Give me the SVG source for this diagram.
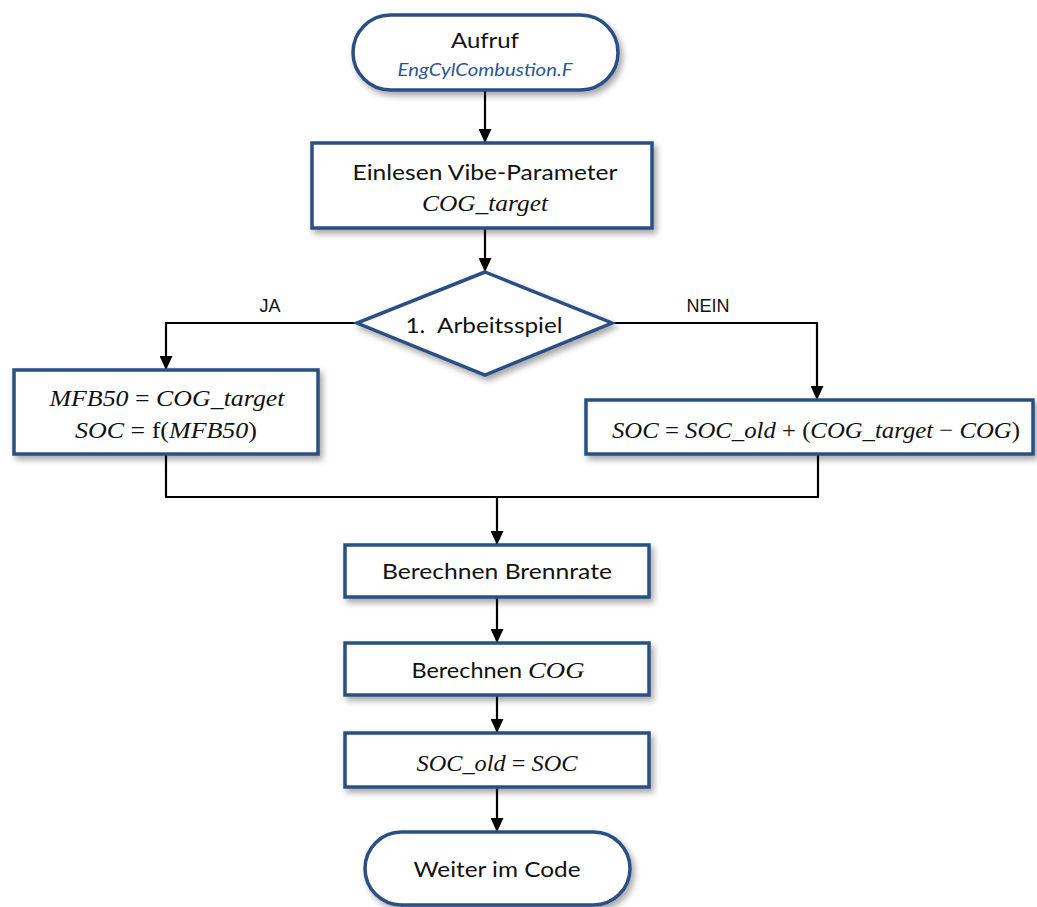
<svg xmlns="http://www.w3.org/2000/svg" width="1037" height="907" viewBox="0 0 1037 907">
  <style>
    .shape { fill: #ffffff; stroke: #2a4f82; stroke-width: 3.5; filter: url(#shadow); }
    .lbl { font-family: Lato, "Open Sans", sans-serif; font-size: 21px; fill: #111; text-anchor: middle; }
    .sub { font-family: Lato, "Open Sans", sans-serif; font-size: 17px; font-style: italic; fill: #2e5597; text-anchor: middle; }
    .math { font-family: "Liberation Serif", "DejaVu Serif", serif; font-size: 24px; fill: #111; text-anchor: middle; }
    .v { font-style: italic; }
    .yn { font-family: "Liberation Sans", Arial, sans-serif; font-size: 18px; fill: #111; text-anchor: middle; }
    .wire { fill: none; stroke: #000; stroke-width: 2.2; }
  </style>
  <defs>
    <filter id="shadow" x="-10%" y="-20%" width="125%" height="150%">
      <feDropShadow dx="3" dy="4" stdDeviation="3" flood-color="#000" flood-opacity="0.35"/>
    </filter>
    <marker id="arrow" viewBox="0 0 14 13" refX="14" refY="6.5" markerWidth="14" markerHeight="13" markerUnits="userSpaceOnUse" orient="auto">
      <path d="M0,0 L14,6.5 L0,13 Z" fill="#000"/>
    </marker>
  </defs>

  <rect width="1037" height="907" fill="#ffffff"/>

  <!-- connectors -->
  <g id="connectors">
    <path class="wire" d="M485,90 V143" marker-end="url(#arrow)"/>
    <path class="wire" d="M485,228 V272" marker-end="url(#arrow)"/>
    <path class="wire" d="M357,323 H166 V370" marker-end="url(#arrow)"/>
    <path class="wire" d="M612,323 H817 V400" marker-end="url(#arrow)"/>
    <path class="wire" d="M166,454 V497 H818 V454"/>
    <path class="wire" d="M497,497 V545" marker-end="url(#arrow)"/>
    <path class="wire" d="M497,597 V643" marker-end="url(#arrow)"/>
    <path class="wire" d="M497,695 V733" marker-end="url(#arrow)"/>
    <path class="wire" d="M497,787 V832" marker-end="url(#arrow)"/>
    <text class="yn" x="270" y="312">JA</text>
    <text class="yn" x="708" y="312">NEIN</text>
  </g>

  <!-- start terminator -->
  <g id="start">
    <rect class="shape" x="353" y="15" width="265" height="75" rx="37.5" ry="37.5"/>
    <text class="lbl" x="485" y="48" textLength="68" lengthAdjust="spacingAndGlyphs">Aufruf</text>
    <text class="sub" x="485" y="76" textLength="175" lengthAdjust="spacingAndGlyphs">EngCylCombustion.F</text>
  </g>

  <!-- read parameters -->
  <g id="read-params">
    <rect class="shape" x="312" y="143" width="340" height="85"/>
    <text class="lbl" x="485" y="180" textLength="265" lengthAdjust="spacingAndGlyphs">Einlesen Vibe-Parameter</text>
    <text class="math" x="485" y="211" textLength="126" lengthAdjust="spacingAndGlyphs"><tspan class="v">COG_target</tspan></text>
  </g>

  <!-- decision -->
  <g id="first-cycle">
    <polygon class="shape" points="485,272 612,323 485,375 357,323"/>
    <text class="lbl" x="484" y="333" textLength="157" lengthAdjust="spacingAndGlyphs" xml:space="preserve">1.  Arbeitsspiel</text>
  </g>

  <!-- yes branch -->
  <g id="init-soc">
    <rect class="shape" x="14" y="370" width="304" height="84"/>
    <text class="math" x="167" y="406" textLength="235" lengthAdjust="spacingAndGlyphs"><tspan class="v">MFB50</tspan> = <tspan class="v">COG_target</tspan></text>
    <text class="math" x="166" y="438" textLength="182" lengthAdjust="spacingAndGlyphs"><tspan class="v">SOC</tspan> = f(<tspan class="v">MFB50</tspan>)</text>
  </g>

  <!-- no branch -->
  <g id="update-soc">
    <rect class="shape" x="586" y="400" width="447" height="54"/>
    <text class="math" x="816" y="438" textLength="408" lengthAdjust="spacingAndGlyphs"><tspan class="v">SOC</tspan> = <tspan class="v">SOC_old</tspan> + (<tspan class="v">COG_target</tspan> − <tspan class="v">COG</tspan>)</text>
  </g>

  <!-- burn rate -->
  <g id="burn-rate">
    <rect class="shape" x="345" y="545" width="304" height="52"/>
    <text class="lbl" x="497" y="579" textLength="230" lengthAdjust="spacingAndGlyphs">Berechnen Brennrate</text>
  </g>

  <!-- centre of gravity -->
  <g id="calc-cog">
    <rect class="shape" x="345" y="643" width="304" height="52"/>
    <text class="lbl" x="498" y="678" textLength="173" lengthAdjust="spacingAndGlyphs">Berechnen <tspan class="math v" style="font-size:24px">COG</tspan></text>
  </g>

  <!-- store previous SOC -->
  <g id="store-soc">
    <rect class="shape" x="345" y="733" width="304" height="54"/>
    <text class="math" x="497" y="771" textLength="161" lengthAdjust="spacingAndGlyphs"><tspan class="v">SOC_old</tspan> = <tspan class="v">SOC</tspan></text>
  </g>

  <!-- end terminator -->
  <g id="end">
    <rect class="shape" x="365" y="832" width="265" height="73" rx="36.5" ry="36.5"/>
    <text class="lbl" x="497" y="877" textLength="167" lengthAdjust="spacingAndGlyphs">Weiter im Code</text>
  </g>
</svg>
